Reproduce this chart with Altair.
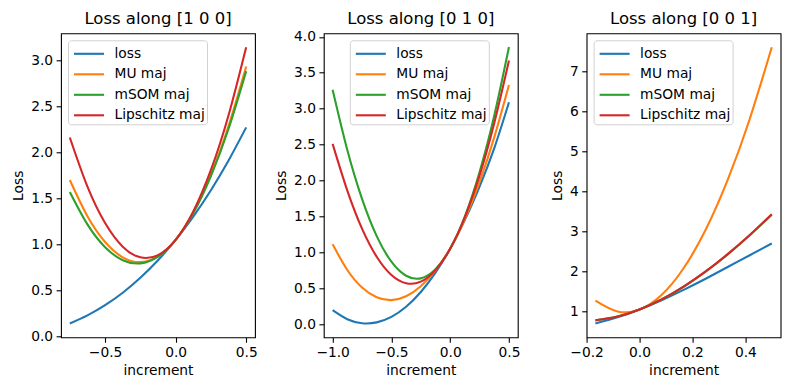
import altair as alt
import pandas as pd

series_names = ["loss", "MU maj", "mSOM maj", "Lipschitz maj"]
series_colors = ["#1f77b4", "#ff7f0e", "#2ca02c", "#d62728"]

# Panel 1: Loss along [1 0 0]
x1 = [-0.75, -0.625, -0.5, -0.375, -0.25, -0.125, 0.0, 0.125, 0.25, 0.375, 0.5]
p1_loss = [0.144, 0.232, 0.342, 0.477, 0.639, 0.829, 1.05, 1.303, 1.589, 1.911, 2.27]
p1_mu = [1.700, 1.307, 1.027, 0.861, 0.809, 0.872, 1.05, 1.344, 1.755, 2.284, 2.93]
p1_msom = [1.570, 1.218, 0.971, 0.830, 0.795, 0.868, 1.05, 1.341, 1.743, 2.255, 2.88]
p1_lip = [2.160, 1.627, 1.233, 0.977, 0.861, 0.885, 1.05, 1.357, 1.808, 2.402, 3.14]

# Panel 2: Loss along [0 1 0]
x2 = [-1.0, -0.875, -0.75, -0.625, -0.5, -0.375, -0.25, -0.125, 0.0, 0.125, 0.25, 0.375, 0.5]
p2_loss = [0.193, 0.067, 0.011, 0.023, 0.099, 0.240, 0.446, 0.716, 1.051, 1.451, 1.916, 2.451, 3.09]
p2_mu = [1.11, 0.753, 0.509, 0.373, 0.333, 0.386, 0.526, 0.748, 1.051, 1.462, 1.979, 2.604, 3.33]
p2_msom = [3.263, 2.423, 1.744, 1.225, 0.868, 0.672, 0.636, 0.762, 1.048, 1.50, 2.118, 2.904, 3.859]
p2_lip = [2.51, 1.859, 1.329, 0.937, 0.683, 0.568, 0.590, 0.751, 1.05, 1.49, 2.07, 2.80, 3.67]

# Panel 3: Loss along [0 0 1]
x3 = [-0.1667, -0.0833, 0.0, 0.0833, 0.1667, 0.25, 0.3333, 0.4167, 0.5]
p3_loss = [0.70, 0.854, 1.05, 1.281, 1.540, 1.818, 2.110, 2.406, 2.70]
p3_mu = [1.27, 0.999, 1.05, 1.413, 2.080, 3.040, 4.287, 5.810, 7.60]
p3_msom = [0.778, 0.872, 1.05, 1.299, 1.618, 1.995, 2.426, 2.903, 3.42]
p3_lip = [0.780, 0.874, 1.05, 1.301, 1.621, 2.000, 2.433, 2.912, 3.43]

titles = ["Loss along [1 0 0]", "Loss along [0 1 0]", "Loss along [0 0 1]"]

p1_xticks = [-0.5, 0.0, 0.5]
p1_yticks = [0.0, 0.5, 1.0, 1.5, 2.0, 2.5, 3.0]
p2_xticks = [-1.0, -0.5, 0.0, 0.5]
p2_yticks = [0.0, 0.5, 1.0, 1.5, 2.0, 2.5, 3.0, 3.5, 4.0]
p3_xticks = [-0.2, 0.0, 0.2, 0.4]
p3_yticks = [1, 2, 3, 4, 5, 6, 7]

FONT = "DejaVu Sans"


def make_df(xs, curves):
    rows = []
    for name, ys in zip(series_names, curves):
        for xv, yv in zip(xs, ys):
            rows.append({"increment": xv, "Loss": yv, "series": name})
    return pd.DataFrame(rows)


def panel(xs, curves, title, xdom, ydom, xticks, yticks, xfmt, yfmt, legend_x, title_dy):
    df = make_df(xs, curves)
    layers = []
    for i, name in enumerate(series_names):
        leg = None
        if i == 0:
            leg = alt.Legend(
                orient="none", legendX=legend_x, legendY=7, title=None,
                symbolType="M-1.5,0L1.5,0", symbolSize=400, symbolStrokeWidth=2.1,
                symbolOffset=7.5,
                labelFont=FONT, labelFontSize=13.8, labelColor="black",
                labelOffset=14, fillColor="rgba(255,255,255,0.8)",
                strokeColor="#d0d0d0", cornerRadius=3, padding=2, rowPadding=1.5,
            )
        layer = alt.Chart(df).transform_filter(
            alt.datum.series == name
        ).mark_line(strokeWidth=2.1, interpolate="natural", clip=True).encode(
            x=alt.X("increment:Q",
                    scale=alt.Scale(domain=xdom, nice=False, zero=False),
                    axis=alt.Axis(values=xticks, format=xfmt, title="increment")),
            y=alt.Y("Loss:Q",
                    scale=alt.Scale(domain=ydom, nice=False, zero=False),
                    axis=alt.Axis(values=yticks, format=yfmt, title="Loss")),
            color=alt.Color("series:N",
                            scale=alt.Scale(domain=series_names, range=series_colors),
                            legend=leg),
        )
        layers.append(layer)
    return alt.layer(*layers).properties(
        width=194, height=304,
        title=alt.TitleParams(title, fontSize=16.5, font=FONT, fontWeight="normal",
                              color="black", anchor="middle", frame="group",
                              offset=5.8, dy=title_dy),
    )


c1 = panel(x1, [p1_loss, p1_mu, p1_msom, p1_lip], titles[0],
           [-0.8125, 0.5625], [-0.006, 3.29], p1_xticks, p1_yticks, ".1f", ".1f", 7, 0)
c2 = panel(x2, [p2_loss, p2_mu, p2_msom, p2_lip], titles[1],
           [-1.075, 0.575], [-0.185, 4.05], p2_xticks, p2_yticks, ".1f", ".1f", 26, 3.3)
c3 = panel(x3, [p3_loss, p3_mu, p3_msom, p3_lip], titles[2],
           [-0.2, 0.5333], [0.355, 7.95], p3_xticks, p3_yticks, ".1f", "d", 7, 0)

chart = alt.hconcat(c1, c2, c3, spacing=68.8, bounds="flush").resolve_scale(
    color="independent"
).resolve_legend(color="independent").properties(
    padding={"left": 3, "top": 2.3, "right": 0, "bottom": 0}
).configure(font=FONT).configure_view(
    stroke="black", strokeWidth=1.1
).configure_axis(
    domain=False, grid=False, labelFont=FONT, labelFontSize=13.8, labelColor="black",
    titleFont=FONT, titleFontSize=13.8, titleFontWeight="normal", titleColor="black",
    tickColor="black", tickWidth=1.1, tickSize=4.9, labelPadding=3.5, titlePadding=5,
    labelFlush=False,
).configure_axisX(titlePadding=4)

chart.save("out.html", embed_options={"renderer": "svg", "actions": False})
